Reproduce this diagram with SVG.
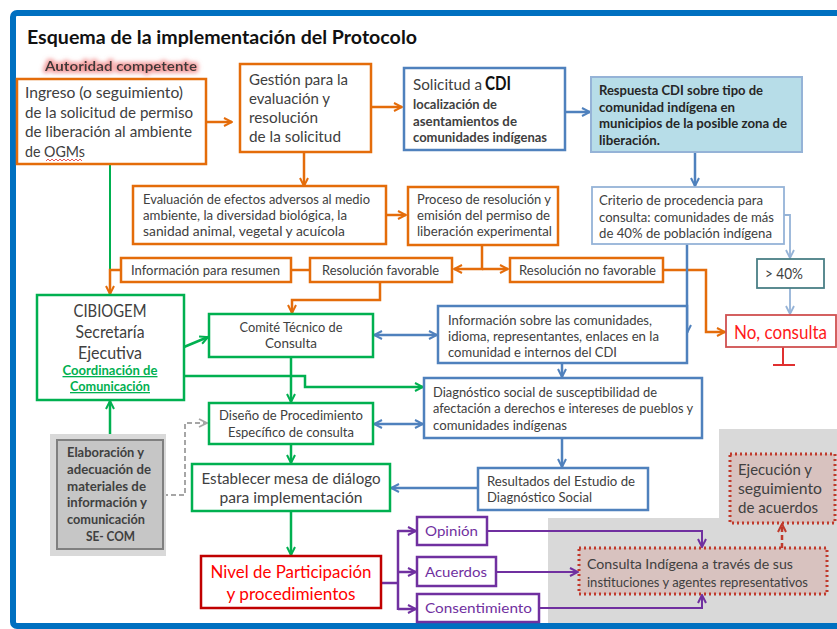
<svg xmlns="http://www.w3.org/2000/svg" width="837" height="629" viewBox="0 0 837 629">
<style>
text{font-family:Lato,"Liberation Sans",sans-serif;fill:#404040;}
.bd{font-weight:bold;}
.o{fill:#fff;stroke:#e46c0a;stroke-width:2.5;}
.g{fill:#fff;stroke:#00b050;stroke-width:2.5;}
.b{fill:#fff;stroke:#4f81bd;stroke-width:2.5;}
.lb{fill:#fff;stroke:#95b3d7;stroke-width:1.8;}
.p{fill:#fff;stroke:#7030a0;stroke-width:2.5;}
.p-t{fill:#7030a0;}
.co{fill:none;stroke:#e46c0a;stroke-width:2.5;}
.cg{fill:none;stroke:#00b050;stroke-width:2.5;}
.cb{fill:none;stroke:#4f81bd;stroke-width:2.5;}
.cl{fill:none;stroke:#95b3d7;stroke-width:1.8;}
.cp{fill:none;stroke:#7030a0;stroke-width:2.5;}
.dot{fill:#d8c2bf;stroke:#c0392b;stroke-width:3;stroke-dasharray:2 3;}
</style>
<defs>
<filter id="glow" x="-10%" y="-50%" width="120%" height="200%">
<feMorphology in="SourceAlpha" operator="dilate" radius="2" result="d"/>
<feGaussianBlur in="d" stdDeviation="2" result="bl"/>
<feFlood flood-color="#f08080" flood-opacity="0.75"/>
<feComposite in2="bl" operator="in" result="gl"/>
<feMerge><feMergeNode in="gl"/><feMergeNode in="SourceGraphic"/></feMerge>
</filter>
<marker id="ao" viewBox="0 0 10 10" refX="9" refY="5" markerWidth="10" markerHeight="10" markerUnits="userSpaceOnUse" orient="auto-start-reverse"><path d="M1,1 L9,5 L1,9" fill="none" stroke="#e46c0a" stroke-width="2"/></marker>
<marker id="ag" viewBox="0 0 10 10" refX="9" refY="5" markerWidth="10" markerHeight="10" markerUnits="userSpaceOnUse" orient="auto-start-reverse"><path d="M1,1 L9,5 L1,9" fill="none" stroke="#00b050" stroke-width="2"/></marker>
<marker id="ab" viewBox="0 0 10 10" refX="9" refY="5" markerWidth="10" markerHeight="10" markerUnits="userSpaceOnUse" orient="auto-start-reverse"><path d="M1,1 L9,5 L1,9" fill="none" stroke="#4f81bd" stroke-width="2"/></marker>
<marker id="al" viewBox="0 0 10 10" refX="9" refY="5" markerWidth="10" markerHeight="10" markerUnits="userSpaceOnUse" orient="auto-start-reverse"><path d="M1,1 L9,5 L1,9" fill="none" stroke="#95b3d7" stroke-width="1.8"/></marker>
<marker id="ap" viewBox="0 0 10 10" refX="9" refY="5" markerWidth="10" markerHeight="10" markerUnits="userSpaceOnUse" orient="auto-start-reverse"><path d="M1,1 L9,5 L1,9" fill="none" stroke="#7030a0" stroke-width="2"/></marker>
<marker id="ay" viewBox="0 0 10 10" refX="9" refY="5" markerWidth="10" markerHeight="10" markerUnits="userSpaceOnUse" orient="auto-start-reverse"><path d="M1,1 L9,5 L1,9" fill="none" stroke="#a6a6a6" stroke-width="1.8"/></marker>
<marker id="ar" viewBox="0 0 10 10" refX="9" refY="5" markerWidth="10" markerHeight="10" markerUnits="userSpaceOnUse" orient="auto-start-reverse"><path d="M1,1 L9,5 L1,9" fill="none" stroke="#c0392b" stroke-width="2"/></marker>
</defs>

<rect x="0" y="0" width="837" height="629" fill="#fff"/>
<rect x="13" y="13" width="900" height="613" rx="4" fill="#fff" stroke="#0070c0" stroke-width="6"/>

<!-- gray regions -->
<rect x="548" y="518" width="289" height="105" fill="#d9d9d9"/>
<rect x="719" y="429" width="118" height="90" fill="#d9d9d9"/>

<text x="27" y="44" class="bd" font-size="18" textLength="390" lengthAdjust="spacingAndGlyphs" style="fill:#111">Esquema de la implementación del Protocolo</text>
<text x="45" y="71" class="bd" font-size="14" textLength="152" lengthAdjust="spacingAndGlyphs" filter="url(#glow)" style="fill:#3a3a3a">Autoridad competente</text>

<g id="connectors">
<path class="co" d="M206,122 H232" marker-end="url(#ao)"/>
<path class="co" d="M371,107 H402" marker-end="url(#ao)"/>
<path class="co" d="M304,152 V186" marker-end="url(#ao)"/>
<path class="co" d="M386,215 H406" marker-end="url(#ao)"/>
<path class="co" d="M482,245 V269 H454" marker-end="url(#ao)"/>
<path class="co" d="M482,269 H508" marker-end="url(#ao)"/>
<path class="co" d="M291,270 H310"/>
<path class="cg" d="M110,164 V270" style="stroke-width:2"/>
<path class="co" d="M121,270 H110 V294" marker-end="url(#ao)"/>
<path class="co" d="M380,282 V300 H292 V313" marker-end="url(#ao)"/>
<path class="co" d="M663,270 H706 V332 H725" marker-end="url(#ao)"/>
<path class="cg" d="M184,347 L208,337" marker-end="url(#ag)"/>
<path class="cg" d="M184,376 H305 V387 H423" marker-end="url(#ag)"/>
<path class="cg" d="M291,357 V402" marker-end="url(#ag)"/>
<path class="cg" d="M291,444 V463" marker-end="url(#ag)"/>
<path class="cg" d="M291,511 V555" marker-end="url(#ag)"/>
<path class="cg" d="M110,440 V401" marker-end="url(#ag)"/>
<path class="cb" d="M565,112 H590" marker-end="url(#ab)"/>
<path class="cb" d="M695,152 V186" marker-end="url(#ab)"/>
<path class="cb" d="M687,244 V333" marker-end="url(#ab)"/>
<path class="cb" d="M374,335 H437" marker-start="url(#ab)" marker-end="url(#ab)"/>
<path class="cb" d="M562,363 V377" marker-end="url(#ab)"/>
<path class="cb" d="M374,424 H423" marker-start="url(#ab)" marker-end="url(#ab)"/>
<path class="cb" d="M562,438 V467" marker-end="url(#ab)"/>
<path class="cb" d="M478,488 H391" marker-end="url(#ab)"/>
<path class="cl" d="M784,215 H790 V258" marker-end="url(#al)"/>
<path class="cl" d="M790,288 V314" marker-end="url(#al)"/>
<path class="cp" d="M381,583 H398"/>
<path class="cp" d="M398,530 V610"/>
<path class="cp" d="M398,531 H416" marker-end="url(#ap)"/>
<path class="cp" d="M398,572 H416" marker-end="url(#ap)"/>
<path class="cp" d="M398,609 H416" marker-end="url(#ap)"/>
<path class="cp" d="M487,531 H702 V547" marker-end="url(#ap)" style="stroke-width:2"/>
<path class="cp" d="M496,572 H578" marker-end="url(#ap)" style="stroke-width:2"/>
<path class="cp" d="M539,608 H702 V595" marker-end="url(#ap)" style="stroke-width:2"/>
<path d="M782,548 V524" fill="none" stroke="#c0392b" stroke-width="2.5" stroke-dasharray="5 3" marker-end="url(#ar)"/>
<path d="M163,495 H185 V423 H207" fill="none" stroke="#a6a6a6" stroke-width="2" stroke-dasharray="5 3" marker-end="url(#ay)"/>
<path d="M783,347 V365 M773,365 H795" fill="none" stroke="#e03030" stroke-width="2"/>
</g>

<g id="ingreso">
<rect class="o" x="17" y="79" width="189" height="85"/>
<text x="25" y="98" font-size="15" textLength="158" lengthAdjust="spacingAndGlyphs">Ingreso (o seguimiento)</text>
<text x="25" y="118" font-size="15" textLength="168" lengthAdjust="spacingAndGlyphs">de la solicitud de permiso</text>
<text x="25" y="137" font-size="15" textLength="167" lengthAdjust="spacingAndGlyphs">de liberación al ambiente</text>
<text x="25" y="157" font-size="15" textLength="60" lengthAdjust="spacingAndGlyphs">de OGMs</text>
<path d="M46,161 l2,-2 l2,2 l2,-2 l2,2 l2,-2 l2,2 l2,-2 l2,2 l2,-2 l2,2 l2,-2 l2,2 l2,-2 l2,2 l2,-2 l2,2 l2,-2 l2,2" fill="none" stroke="#e03030" stroke-width="0.8"/>
</g>

<g id="gestion">
<rect class="o" x="240" y="64" width="131" height="88"/>
<text x="249" y="85" font-size="15" textLength="99" lengthAdjust="spacingAndGlyphs">Gestión para la</text>
<text x="249" y="104" font-size="15" textLength="81" lengthAdjust="spacingAndGlyphs">evaluación y</text>
<text x="249" y="123" font-size="15" textLength="69" lengthAdjust="spacingAndGlyphs">resolución</text>
<text x="249" y="142" font-size="15" textLength="92" lengthAdjust="spacingAndGlyphs">de la solicitud</text>
</g>

<g id="solicitud-cdi">
<rect class="b" x="404" y="68" width="161" height="82"/>
<text x="413" y="90" font-size="15" textLength="69" lengthAdjust="spacingAndGlyphs">Solicitud a</text>
<text x="485" y="90" class="bd" font-size="18" textLength="26" lengthAdjust="spacingAndGlyphs" style="fill:#111">CDI</text>
<text x="413" y="109" class="bd" font-size="12.5" textLength="84" lengthAdjust="spacingAndGlyphs">localización  de</text>
<text x="413" y="126" class="bd" font-size="12.5" textLength="104" lengthAdjust="spacingAndGlyphs">asentamientos de</text>
<text x="413" y="142" class="bd" font-size="12.5" textLength="134" lengthAdjust="spacingAndGlyphs">comunidades indígenas</text>
</g>

<g id="respuesta-cdi">
<rect x="591" y="77" width="211" height="75" fill="#b7dde8" stroke="#95b3d7" stroke-width="2"/>
<text x="599" y="95" class="bd" font-size="12.5" textLength="164" lengthAdjust="spacingAndGlyphs" style="fill:#262626">Respuesta CDI sobre  tipo de</text>
<text x="599" y="112" class="bd" font-size="12.5" textLength="136" lengthAdjust="spacingAndGlyphs" style="fill:#262626">comunidad indígena en</text>
<text x="599" y="128" class="bd" font-size="12.5" textLength="188" lengthAdjust="spacingAndGlyphs" style="fill:#262626">municipios de la posible zona de</text>
<text x="599" y="145" class="bd" font-size="12.5" textLength="61" lengthAdjust="spacingAndGlyphs" style="fill:#262626">liberación.</text>
</g>

<g id="criterio">
<rect class="lb" x="592" y="187" width="192" height="57"/>
<text x="599" y="205" font-size="13" textLength="164" lengthAdjust="spacingAndGlyphs">Criterio de procedencia para</text>
<text x="599" y="222" font-size="13" textLength="175" lengthAdjust="spacingAndGlyphs">consulta: comunidades de más</text>
<text x="599" y="238" font-size="13" textLength="173" lengthAdjust="spacingAndGlyphs">de 40% de población indígena</text>
</g>

<g id="evaluacion">
<rect class="o" x="133" y="186" width="253" height="58"/>
<text x="143" y="204" font-size="13" textLength="227" lengthAdjust="spacingAndGlyphs">Evaluación de efectos adversos al medio</text>
<text x="143" y="220" font-size="13" textLength="204" lengthAdjust="spacingAndGlyphs">ambiente, la diversidad biológica, la</text>
<text x="143" y="236" font-size="13" textLength="202" lengthAdjust="spacingAndGlyphs">sanidad animal, vegetal y acuícola</text>
</g>

<g id="proceso">
<rect class="o" x="408" y="187" width="150" height="58"/>
<text x="417" y="204" font-size="13" textLength="134" lengthAdjust="spacingAndGlyphs">Proceso de resolución y</text>
<text x="417" y="220" font-size="13" textLength="133" lengthAdjust="spacingAndGlyphs">emisión del permiso de</text>
<text x="417" y="236" font-size="13" textLength="135" lengthAdjust="spacingAndGlyphs">liberación experimental</text>
</g>

<g id="info-resumen">
<rect class="o" x="121" y="258" width="170" height="24"/>
<text x="131" y="275" font-size="13" textLength="149" lengthAdjust="spacingAndGlyphs">Información para resumen</text>
</g>

<g id="res-favorable">
<rect class="o" x="310" y="258" width="142" height="24"/>
<text x="322" y="275" font-size="13" textLength="117" lengthAdjust="spacingAndGlyphs">Resolución favorable</text>
</g>

<g id="res-no-favorable">
<rect class="o" x="510" y="258" width="153" height="24"/>
<text x="519" y="275" font-size="13" textLength="137" lengthAdjust="spacingAndGlyphs">Resolución no favorable</text>
</g>

<g id="mayor-40">
<rect x="757" y="259" width="67" height="29" fill="#fff" stroke="#4a7f86" stroke-width="1.8"/>
<text x="765" y="279" font-size="15" textLength="38" lengthAdjust="spacingAndGlyphs">&gt; 40%</text>
</g>

<g id="no-consulta">
<rect x="726" y="315" width="110" height="32" fill="#fff" stroke="#d05050" stroke-width="1.8"/>
<text x="734" y="339" font-size="19" textLength="93" lengthAdjust="spacingAndGlyphs" style="fill:#ff1a1a">No, consulta</text>
</g>

<g id="cibiogem">
<rect class="g" x="37" y="295" width="147" height="105"/>
<text x="110" y="317" font-size="17" text-anchor="middle" textLength="73" lengthAdjust="spacingAndGlyphs">CIBIOGEM</text>
<text x="110" y="338" font-size="17" text-anchor="middle" textLength="69" lengthAdjust="spacingAndGlyphs">Secretaría</text>
<text x="110" y="359" font-size="17" text-anchor="middle" textLength="64" lengthAdjust="spacingAndGlyphs">Ejecutiva</text>
<text x="110" y="375" class="bd" font-size="13" text-anchor="middle" textLength="95" lengthAdjust="spacingAndGlyphs" text-decoration="underline" style="fill:#00b050">Coordinación de</text>
<text x="110" y="391" class="bd" font-size="13" text-anchor="middle" textLength="80" lengthAdjust="spacingAndGlyphs" text-decoration="underline" style="fill:#00b050">Comunicación</text>
</g>

<g id="comite">
<rect class="g" x="209" y="314" width="164" height="43"/>
<text x="291" y="332" font-size="13" text-anchor="middle" textLength="103" lengthAdjust="spacingAndGlyphs">Comité Técnico de</text>
<text x="291" y="348" font-size="13" text-anchor="middle" textLength="52" lengthAdjust="spacingAndGlyphs">Consulta</text>
</g>

<g id="info-comunidades">
<rect class="b" x="438" y="306" width="249" height="57"/>
<text x="448" y="325" font-size="13" textLength="204" lengthAdjust="spacingAndGlyphs">Información sobre las comunidades,</text>
<text x="448" y="341" font-size="13" textLength="211" lengthAdjust="spacingAndGlyphs">idioma, representantes, enlaces en la</text>
<text x="448" y="357" font-size="13" textLength="169" lengthAdjust="spacingAndGlyphs">comunidad e internos del CDI</text>
</g>

<g id="diagnostico">
<rect class="b" x="424" y="378" width="278" height="60"/>
<text x="433" y="397" font-size="13" textLength="224" lengthAdjust="spacingAndGlyphs">Diagnóstico social de susceptibilidad de</text>
<text x="433" y="413" font-size="13" textLength="260" lengthAdjust="spacingAndGlyphs">afectación a derechos e intereses de pueblos y</text>
<text x="433" y="430" font-size="13" textLength="134" lengthAdjust="spacingAndGlyphs">comunidades indígenas</text>
</g>

<g id="diseno">
<rect class="g" x="209" y="403" width="164" height="41"/>
<text x="291" y="420" font-size="13.5" text-anchor="middle" textLength="144" lengthAdjust="spacingAndGlyphs">Diseño de Procedimiento</text>
<text x="291" y="437" font-size="13.5" text-anchor="middle" textLength="126" lengthAdjust="spacingAndGlyphs">Específico de consulta</text>
</g>

<g id="resultados">
<rect class="b" x="478" y="468" width="170" height="42"/>
<text x="487" y="486" font-size="13" textLength="148" lengthAdjust="spacingAndGlyphs">Resultados del Estudio  de</text>
<text x="487" y="502" font-size="13" textLength="105" lengthAdjust="spacingAndGlyphs">Diagnóstico Social</text>
</g>

<g id="establecer">
<rect class="g" x="192" y="464" width="198" height="47"/>
<text x="291" y="484" font-size="16" text-anchor="middle" textLength="179" lengthAdjust="spacingAndGlyphs">Establecer mesa de diálogo</text>
<text x="291" y="503" font-size="16" text-anchor="middle" textLength="143" lengthAdjust="spacingAndGlyphs">para implementación</text>
</g>

<g id="elaboracion">
<rect x="50" y="434" width="116" height="122" fill="#d9d9d9"/>
<rect x="57" y="440" width="106" height="109" fill="#c6c6c6" stroke="#808080" stroke-width="2"/>
<text x="67" y="457" class="bd" font-size="12.5" textLength="77" lengthAdjust="spacingAndGlyphs">Elaboración y</text>
<text x="67" y="474" class="bd" font-size="12.5" textLength="84" lengthAdjust="spacingAndGlyphs">adecuación de</text>
<text x="67" y="491" class="bd" font-size="12.5" textLength="79" lengthAdjust="spacingAndGlyphs">materiales de</text>
<text x="67" y="507" class="bd" font-size="12.5" textLength="80" lengthAdjust="spacingAndGlyphs">información y</text>
<text x="67" y="524" class="bd" font-size="12.5" textLength="78" lengthAdjust="spacingAndGlyphs">comunicación</text>
<text x="86" y="541" class="bd" font-size="12.5" textLength="49" lengthAdjust="spacingAndGlyphs">SE- COM</text>
</g>

<g id="nivel">
<rect x="201" y="556" width="180" height="52" fill="#fff" stroke="#c00000" stroke-width="2.5"/>
<text x="291" y="578" font-size="17" text-anchor="middle" textLength="161" lengthAdjust="spacingAndGlyphs" style="fill:#ff0000">Nivel de Participación</text>
<text x="291" y="600" font-size="17" text-anchor="middle" textLength="129" lengthAdjust="spacingAndGlyphs" style="fill:#ff0000">y procedimientos</text>
</g>

<g id="opinion">
<rect class="p" x="417" y="517" width="70" height="28"/>
<text x="425" y="536" font-size="14" class="p-t" textLength="53" lengthAdjust="spacingAndGlyphs">Opinión</text>
</g>

<g id="acuerdos">
<rect class="p" x="417" y="557" width="79" height="29"/>
<text x="425" y="577" font-size="14" class="p-t" textLength="62" lengthAdjust="spacingAndGlyphs">Acuerdos</text>
</g>

<g id="consentimiento">
<rect class="p" x="417" y="594" width="122" height="28"/>
<text x="425" y="613" font-size="14" class="p-t" textLength="107" lengthAdjust="spacingAndGlyphs">Consentimiento</text>
</g>

<g id="consulta-indigena">
<rect class="dot" x="579" y="548" width="248" height="46"/>
<text x="587" y="569" font-size="13.5" textLength="206" lengthAdjust="spacingAndGlyphs">Consulta Indígena a través de sus</text>
<text x="587" y="587" font-size="13.5" textLength="221" lengthAdjust="spacingAndGlyphs">instituciones y agentes representativos</text>
</g>

<g id="ejecucion">
<rect class="dot" x="730" y="454" width="105" height="69"/>
<text x="738" y="475" font-size="15" textLength="74" lengthAdjust="spacingAndGlyphs">Ejecución y</text>
<text x="738" y="494" font-size="15" textLength="84" lengthAdjust="spacingAndGlyphs">seguimiento</text>
<text x="738" y="513" font-size="15" textLength="80" lengthAdjust="spacingAndGlyphs">de acuerdos</text>
</g>
</svg>
